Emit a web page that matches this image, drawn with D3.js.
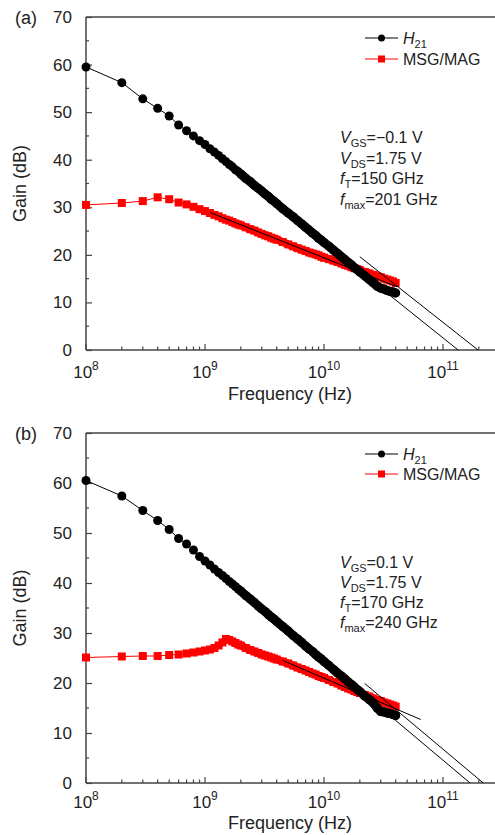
<!DOCTYPE html>
<html>
<head>
<meta charset="utf-8">
<script src="https://cdn.jsdelivr.net/npm/d3@7"></script>
<style>
  body { margin: 0; background: #fff; }
  text { font-family: "Liberation Sans", Arial, sans-serif; fill: #222; }
</style>
</head>
<body>
<div id="chart"></div>
<script>

// frequency sweep points (GHz), shared by both panels
var freqGHz = [0.1, 0.2, 0.3, 0.4, 0.5, 0.6, 0.7, 0.8, 0.9, 1.0,
  1.1, 1.2, 1.3, 1.4, 1.5, 1.6, 1.7, 1.8, 1.9, 2.0,
  2.2, 2.4, 2.6, 2.8, 3.0, 3.2, 3.4, 3.6, 3.8, 4.0,
  4.5, 5, 5.5, 6, 6.5, 7, 7.5, 8, 8.5, 9, 9.5, 10,
  11, 12, 13, 14, 15, 16, 17, 18, 19, 20,
  22, 24, 26, 28, 30, 32, 34, 36, 38, 40];

// (a) VGS = -0.1 V
var h21A = [59.5, 56.2, 52.8, 50.8, 49.2, 47.3, 46.1, 45.0, 44.0, 43.2,
  42.3, 41.6, 40.9, 40.2, 39.6, 39.0, 38.5, 37.9, 37.5, 37.0,
  36.1, 35.4, 34.6, 34.0, 33.4, 32.8, 32.3, 31.7, 31.3, 30.8,
  29.7, 28.8, 28.0, 27.2, 26.5, 25.8, 25.2, 24.6, 24.1, 23.5, 23.1, 22.6,
  21.8, 21.0, 20.3, 19.6, 19.0, 18.4, 17.9, 17.3, 16.9, 16.4,
  15.6, 14.8, 14.1, 13.4, 13.0, 12.8, 12.5, 12.3, 12.2, 12.0];
var msgA = [30.5, 30.9, 31.3, 32.1, 31.7, 31.0, 30.6, 30.1, 29.6, 29.2,
  28.8, 28.4, 28.1, 27.7, 27.4, 27.2, 26.9, 26.6, 26.4, 26.2,
  25.8, 25.4, 25.1, 24.7, 24.4, 24.1, 23.9, 23.6, 23.4, 23.2,
  22.7, 22.2, 21.8, 21.4, 21.1, 20.8, 20.5, 20.3, 20.1, 19.9, 19.6, 19.4,
  19.1, 18.8, 18.5, 18.2, 17.9, 17.7, 17.4, 17.2, 17.0, 16.8,
  16.4, 16.1, 15.8, 15.5, 15.3, 15.0, 14.8, 14.6, 14.4, 14.1];

// (b) VGS = 0.1 V
var h21B = [60.5, 57.4, 54.5, 52.5, 50.7, 48.9, 47.8, 46.6, 45.3, 44.4,
  43.6, 42.8, 42.1, 41.5, 40.9, 40.3, 39.8, 39.3, 38.8, 38.4,
  37.5, 36.8, 36.1, 35.4, 34.8, 34.3, 33.7, 33.2, 32.8, 32.3,
  31.3, 30.4, 29.5, 28.8, 28.1, 27.4, 26.8, 26.3, 25.7, 25.2, 24.8, 24.3,
  23.5, 22.7, 22.0, 21.4, 20.8, 20.2, 19.7, 19.2, 18.7, 18.3,
  17.4, 16.7, 16.0, 15.0, 14.3, 14.2, 14.0, 13.9, 13.7, 13.5];
var msgB = [25.1, 25.3, 25.4, 25.4, 25.6, 25.7, 25.9, 26.1, 26.3, 26.5,
  26.7, 27.0, 27.5, 28.1, 28.8, 28.6, 28.3, 28.0, 27.7, 27.5,
  27.0, 26.6, 26.3, 26.0, 25.7, 25.5, 25.3, 25.1, 24.9, 24.7,
  24.3, 23.9, 23.5, 23.1, 22.8, 22.5, 22.2, 21.9, 21.7, 21.4, 21.2, 21.0,
  20.6, 20.2, 19.9, 19.5, 19.2, 18.9, 18.7, 18.4, 18.2, 18.0,
  17.6, 17.3, 16.9, 16.6, 16.4, 16.1, 15.9, 15.7, 15.5, 15.3];

// extrapolation lines [f1 (Hz), gain1, f2 (Hz), gain2]
var fitA = [[1.1e9, 28.9, 4.1e10, 13.3], [2.5e10, 14.6, 1.34e11, 0], [2.0e10, 19.6, 1.97e11, 0]];
var fitB = [[4.5e9, 24.5, 6.5e10, 12.7], [2.5e10, 16.6, 1.69e11, 0], [2.2e10, 19.9, 2.18e11, 0]];

var yTicks = [0, 10, 20, 30, 40, 50, 60, 70],
  yMinor = [5, 15, 25, 35, 45, 55, 65],
  xExps = [8, 9, 10, 11];

// annotation rows: [italic symbol, subscript, rest]
var biasA = [["V", "GS", "=\u22120.1 V"], ["V", "DS", "=1.75 V"], ["f", "T", "=150 GHz"], ["f", "max", "=201 GHz"]];
var biasB = [["V", "GS", "=0.1 V"], ["V", "DS", "=1.75 V"], ["f", "T", "=170 GHz"], ["f", "max", "=240 GHz"]];

var W = 495, H = 835;
var denseFrom = 2e9;   // above this the sweep markers merge into a solid band

var svg = d3.select("#chart").append("svg")
  .attr("width", W)
  .attr("height", H);

var x = d3.scaleLog()
  .domain([1e8, Math.pow(10, 11.5)])
  .range([86, 86 + 119 * 3.5]);

var panels = [
  { tag: "(a)", top: 17, bottom: 350, h21: h21A, msg: msgA, fits: fitA, bias: biasA,
    legY: 38, legGap: 21, biasY: 143, biasGap: 20.7, tickLab: 28, title: 50 },
  { tag: "(b)", top: 433, bottom: 783, h21: h21B, msg: msgB, fits: fitB, bias: biasB,
    legY: 454, legGap: 20, biasY: 568, biasGap: 20, tickLab: 25, title: 46 }
];

panels.forEach(function(p) {
  var g = svg.append("g");
  var y = d3.scaleLinear().domain([0, 70]).range([p.bottom, p.top]);

  // axes frame: left, bottom, top
  g.append("line").attr("x1", 86).attr("x2", 86).attr("y1", p.top).attr("y2", p.bottom)
    .attr("stroke", "#444").attr("stroke-width", 1.5);
  g.append("line").attr("x1", 86).attr("x2", W).attr("y1", p.bottom).attr("y2", p.bottom)
    .attr("stroke", "#444").attr("stroke-width", 1.5);
  g.append("line").attr("x1", 86).attr("x2", W).attr("y1", p.top).attr("y2", p.top)
    .attr("stroke", "#444").attr("stroke-width", 1.5);

  // y axis ticks (inside)
  var ya = g.append("g")
    .attr("transform", "translate(86,0)")
    .call(d3.axisLeft(y).tickValues(yTicks).tickSize(-6).tickPadding(14).tickFormat(d3.format("d")));
  ya.select(".domain").remove();
  ya.selectAll("line").attr("stroke", "#444").attr("stroke-width", 1.2);
  ya.selectAll("text").style("font-size", "17px").attr("fill", "#222")
    .style("font-family", "Liberation Sans, Arial, sans-serif");
  g.selectAll(".ymin").data(yMinor).enter().append("line")
    .attr("x1", 86).attr("x2", 89)
    .attr("y1", function(d) { return y(d); })
    .attr("y2", function(d) { return y(d); })
    .attr("stroke", "#444").attr("stroke-width", 1.2);

  // x axis ticks (inside)
  var xt = x.ticks().filter(function(d) { return d <= 4.5e11; });
  g.selectAll(".xt").data(xt).enter().append("line")
    .attr("x1", function(d) { return x(d); })
    .attr("x2", function(d) { return x(d); })
    .attr("y1", p.bottom)
    .attr("y2", function(d) {
      var m = d / Math.pow(10, Math.round(Math.log10(d)));
      return p.bottom - (Math.abs(m - 1) < 1e-6 ? 6 : 3.5);
    })
    .attr("stroke", "#444").attr("stroke-width", 1.2);

  xExps.forEach(function(e) {
    var t = g.append("text")
      .attr("x", x(Math.pow(10, e)))
      .attr("y", p.bottom + p.tickLab)
      .attr("text-anchor", "middle")
      .style("font-size", "17px");
    t.append("tspan").text("10");
    t.append("tspan").attr("dy", -8).style("font-size", "12px").text(e);
  });

  // axis titles
  g.append("text")
    .attr("text-anchor", "middle")
    .attr("transform", "translate(26," + ((p.top + p.bottom) / 2) + ")rotate(-90)")
    .style("font-size", "18px")
    .text("Gain (dB)");
  g.append("text")
    .attr("text-anchor", "middle")
    .attr("x", 290)
    .attr("y", p.bottom + p.title)
    .style("font-size", "18px")
    .text("Frequency (Hz)");

  g.append("text")
    .attr("x", 15)
    .attr("y", p.top + 7)
    .style("font-size", "18px")
    .text(p.tag);

  var msgPts = freqGHz.map(function(f, i) { return { f: f * 1e9, g: p.msg[i] }; });
  var h21Pts = freqGHz.map(function(f, i) { return { f: f * 1e9, g: p.h21[i] }; });
  var line = d3.line()
    .x(function(d) { return x(d.f); })
    .y(function(d) { return y(d.g); });
  var dense = function(d) { return d.f >= denseFrom; };

  // MSG/MAG series
  g.append("path").datum(msgPts)
    .attr("fill", "none").attr("stroke", "#ff0000").attr("stroke-width", 1)
    .attr("d", line);
  g.append("path").datum(msgPts.filter(dense))
    .attr("fill", "none").attr("stroke", "#ff0000").attr("stroke-width", 8)
    .attr("stroke-linejoin", "round")
    .attr("d", line);
  g.selectAll(".sq").data(msgPts).enter().append("rect")
    .attr("x", function(d) { return x(d.f) - 4; })
    .attr("y", function(d) { return y(d.g) - 4; })
    .attr("width", 8).attr("height", 8)
    .attr("fill", "#ff0000");

  // H21 series
  g.append("path").datum(h21Pts)
    .attr("fill", "none").attr("stroke", "#000").attr("stroke-width", 1)
    .attr("d", line);
  g.append("path").datum(h21Pts.filter(dense))
    .attr("fill", "none").attr("stroke", "#000").attr("stroke-width", 9)
    .attr("stroke-linejoin", "round").attr("stroke-linecap", "round")
    .attr("d", line);
  g.selectAll(".ci").data(h21Pts).enter().append("circle")
    .attr("cx", function(d) { return x(d.f); })
    .attr("cy", function(d) { return y(d.g); })
    .attr("r", 4.5)
    .attr("fill", "#000");

  // extrapolation lines
  g.selectAll(".fit").data(p.fits).enter().append("line")
    .attr("x1", function(d) { return x(d[0]); })
    .attr("y1", function(d) { return y(d[1]); })
    .attr("x2", function(d) { return x(d[2]); })
    .attr("y2", function(d) { return y(d[3]); })
    .attr("stroke", "#000").attr("stroke-width", 1);

  // legend
  var ly1 = p.legY, ly2 = p.legY + p.legGap;
  g.append("line").attr("x1", 365).attr("x2", 398).attr("y1", ly1).attr("y2", ly1)
    .attr("stroke", "#000").attr("stroke-width", 1);
  g.append("circle").attr("cx", 381.5).attr("cy", ly1).attr("r", 3.5).attr("fill", "#000");
  var lt = g.append("text").attr("x", 403).attr("y", ly1 + 6).style("font-size", "16px");
  lt.append("tspan").style("font-style", "italic").text("H");
  lt.append("tspan").attr("dy", 4).style("font-size", "11px").text("21");

  g.append("line").attr("x1", 365).attr("x2", 398).attr("y1", ly2).attr("y2", ly2)
    .attr("stroke", "#ff0000").attr("stroke-width", 1);
  g.append("rect").attr("x", 378).attr("y", ly2 - 3.5).attr("width", 7).attr("height", 7).attr("fill", "#ff0000");
  g.append("text").attr("x", 403).attr("y", ly2 + 6).style("font-size", "16px").text("MSG/MAG");

  // bias / figure of merit annotation
  p.bias.forEach(function(row, i) {
    var t = g.append("text")
      .attr("x", 340)
      .attr("y", p.biasY + i * p.biasGap)
      .style("font-size", "16px");
    t.append("tspan").style("font-style", "italic").text(row[0]);
    t.append("tspan").attr("dy", 4).style("font-size", "11px").text(row[1]);
    t.append("tspan").attr("dy", -4).text(row[2]);
  });
});

</script>
</body>
</html>
